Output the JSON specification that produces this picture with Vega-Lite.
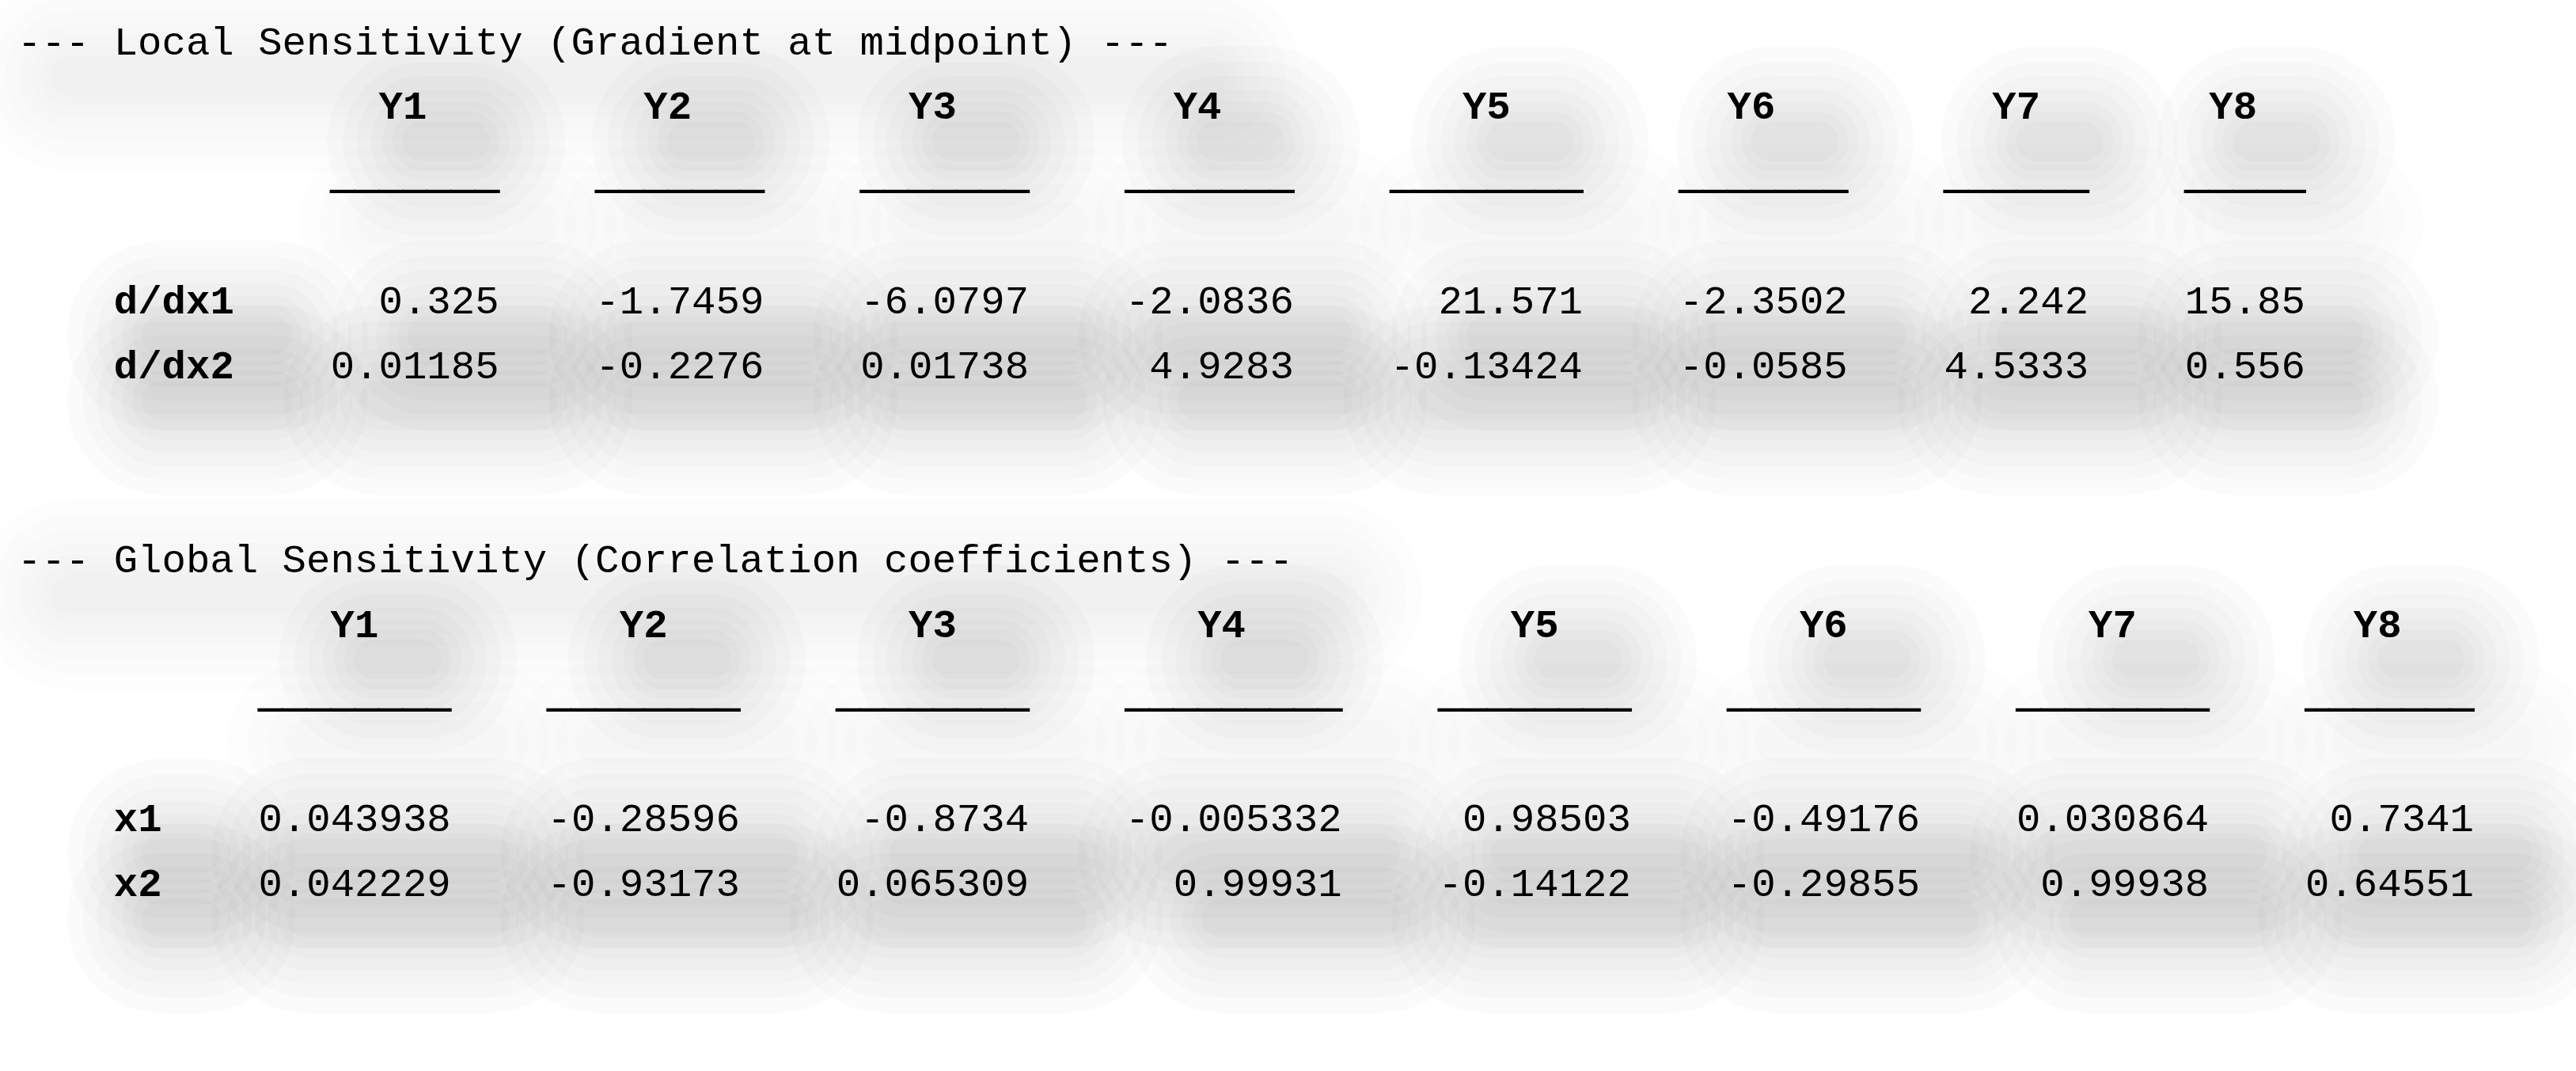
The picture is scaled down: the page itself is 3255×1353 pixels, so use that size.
{
  "$schema": "https://vega.github.io/schema/vega-lite/v6.json",
  "width": 3255,
  "height": 1353,
  "padding": 0,
  "autosize": {"type": "none"},
  "background": "#ffffff",
  "config": {"view": {"stroke": null}},
  "datasets": {
    "cells": [
      {"section": "local", "row": "d/dx1", "col": "Y1", "value": 0.325},
      {"section": "local", "row": "d/dx1", "col": "Y2", "value": -1.7459},
      {"section": "local", "row": "d/dx1", "col": "Y3", "value": -6.0797},
      {"section": "local", "row": "d/dx1", "col": "Y4", "value": -2.0836},
      {"section": "local", "row": "d/dx1", "col": "Y5", "value": 21.571},
      {"section": "local", "row": "d/dx1", "col": "Y6", "value": -2.3502},
      {"section": "local", "row": "d/dx1", "col": "Y7", "value": 2.242},
      {"section": "local", "row": "d/dx1", "col": "Y8", "value": 15.85},
      {"section": "local", "row": "d/dx2", "col": "Y1", "value": 0.01185},
      {"section": "local", "row": "d/dx2", "col": "Y2", "value": -0.2276},
      {"section": "local", "row": "d/dx2", "col": "Y3", "value": 0.01738},
      {"section": "local", "row": "d/dx2", "col": "Y4", "value": 4.9283},
      {"section": "local", "row": "d/dx2", "col": "Y5", "value": -0.13424},
      {"section": "local", "row": "d/dx2", "col": "Y6", "value": -0.0585},
      {"section": "local", "row": "d/dx2", "col": "Y7", "value": 4.5333},
      {"section": "local", "row": "d/dx2", "col": "Y8", "value": 0.556},
      {"section": "global", "row": "x1", "col": "Y1", "value": 0.043938},
      {"section": "global", "row": "x1", "col": "Y2", "value": -0.28596},
      {"section": "global", "row": "x1", "col": "Y3", "value": -0.8734},
      {"section": "global", "row": "x1", "col": "Y4", "value": -0.005332},
      {"section": "global", "row": "x1", "col": "Y5", "value": 0.98503},
      {"section": "global", "row": "x1", "col": "Y6", "value": -0.49176},
      {"section": "global", "row": "x1", "col": "Y7", "value": 0.030864},
      {"section": "global", "row": "x1", "col": "Y8", "value": 0.7341},
      {"section": "global", "row": "x2", "col": "Y1", "value": 0.042229},
      {"section": "global", "row": "x2", "col": "Y2", "value": -0.93173},
      {"section": "global", "row": "x2", "col": "Y3", "value": 0.065309},
      {"section": "global", "row": "x2", "col": "Y4", "value": 0.99931},
      {"section": "global", "row": "x2", "col": "Y5", "value": -0.14122},
      {"section": "global", "row": "x2", "col": "Y6", "value": -0.29855},
      {"section": "global", "row": "x2", "col": "Y7", "value": 0.99938},
      {"section": "global", "row": "x2", "col": "Y8", "value": 0.64551}
    ],
    "titles": [
      {"section": "local", "title": "--- Local Sensitivity (Gradient at midpoint) ---"},
      {"section": "global", "title": "--- Global Sensitivity (Correlation coefficients) ---"}
    ]
  },
  "layer": [
    {
      "data": {"name": "titles"},
      "transform": [
        {"calculate": "'title-' + datum.section", "as": "line"},
        {"calculate": "2.2", "as": "s0"},
        {"calculate": "length(datum.title) + 1.4", "as": "s1"}
      ],
      "encoding": {
        "y": {"field": "line", "type": "nominal", "axis": null,
              "scale": {"type": "point", "padding": 0.769, "align": 0.545,
                        "domain": ["title-local", "head-local", "rule-local", "gap-a", "d/dx1", "d/dx2", "gap-b", "gap-c", "title-global", "head-global", "rule-global", "gap-d", "x1", "x2", "end-a", "end-b"]}}
      },
      "layer": [
        {
          "encoding": {
            "x": {"field": "s0", "type": "quantitative", "axis": null,
                  "scale": {"domain": [-0.723, 106.24], "zero": false, "nice": false}},
            "x2": {"field": "s1"},
            "yOffset": {"value": 28}
          },
          "layer": [
            {"mark": {"type": "rule", "stroke": "#000", "strokeCap": "round", "strokeWidth": 240, "opacity": 0.009}},
            {"mark": {"type": "rule", "stroke": "#000", "strokeCap": "round", "strokeWidth": 200, "opacity": 0.009}},
            {"mark": {"type": "rule", "stroke": "#000", "strokeCap": "round", "strokeWidth": 165, "opacity": 0.009}},
            {"mark": {"type": "rule", "stroke": "#000", "strokeCap": "round", "strokeWidth": 130, "opacity": 0.009}},
            {"mark": {"type": "rule", "stroke": "#000", "strokeCap": "round", "strokeWidth": 100, "opacity": 0.009}},
            {"mark": {"type": "rule", "stroke": "#000", "strokeCap": "round", "strokeWidth": 75, "opacity": 0.009}},
            {"mark": {"type": "rule", "stroke": "#000", "strokeCap": "round", "strokeWidth": 50, "opacity": 0.009}}
          ]
        },
        {
          "mark": {"type": "text", "font": "Liberation Mono", "fontSize": 50.7, "align": "left", "baseline": "alphabetic", "fill": "#000"},
          "encoding": {
            "x": {"datum": 0, "type": "quantitative", "axis": null,
                  "scale": {"domain": [-0.723, 106.24], "zero": false, "nice": false}},
            "text": {"field": "title", "type": "nominal"}
          }
        }
      ]
    },
    {
      "data": {"name": "cells"},
      "transform": [
        {"calculate": "toString(datum.value)", "as": "txt"},
        {"calculate": "length(datum.txt)", "as": "len"},
        {"joinaggregate": [{"op": "max", "field": "len", "as": "colLen"}], "groupby": ["section", "col"]},
        {"calculate": "max(datum.colLen, length(datum.col))", "as": "w"},
        {"calculate": "length(datum.row)", "as": "rowLen"},
        {"joinaggregate": [{"op": "max", "field": "rowLen", "as": "labW"}], "groupby": ["section"]},
        {"calculate": "datum.w + 4", "as": "span"},
        {"window": [{"op": "sum", "field": "span", "as": "cum"}], "groupby": ["section", "row"], "sort": [{"field": "col"}], "frame": [null, 0]},
        {"calculate": "4 + datum.labW + datum.cum", "as": "edge"},
        {"filter": "datum.row == 'd/dx1' || datum.row == 'x1'"},
        {"calculate": "datum.edge - datum.w + floor((datum.w - length(datum.col)) / 2) + length(datum.col) / 2", "as": "mid"},
        {"calculate": "datum.mid + 0.8", "as": "s0"},
        {"calculate": "datum.mid + 2.8", "as": "s1"},
        {"calculate": "'head-' + datum.section", "as": "line"}
      ],
      "encoding": {
        "y": {"field": "line", "type": "nominal", "axis": null}
      },
      "layer": [
        {
          "encoding": {
            "x": {"field": "s0", "type": "quantitative", "axis": null,
                  "scale": {"domain": [-0.723, 106.24], "zero": false, "nice": false}},
            "x2": {"field": "s1"},
            "yOffset": {"value": 28}
          },
          "layer": [
            {"mark": {"type": "rule", "stroke": "#000", "strokeCap": "round", "strokeWidth": 240, "opacity": 0.016}},
            {"mark": {"type": "rule", "stroke": "#000", "strokeCap": "round", "strokeWidth": 200, "opacity": 0.016}},
            {"mark": {"type": "rule", "stroke": "#000", "strokeCap": "round", "strokeWidth": 165, "opacity": 0.016}},
            {"mark": {"type": "rule", "stroke": "#000", "strokeCap": "round", "strokeWidth": 130, "opacity": 0.016}},
            {"mark": {"type": "rule", "stroke": "#000", "strokeCap": "round", "strokeWidth": 100, "opacity": 0.016}},
            {"mark": {"type": "rule", "stroke": "#000", "strokeCap": "round", "strokeWidth": 75, "opacity": 0.016}},
            {"mark": {"type": "rule", "stroke": "#000", "strokeCap": "round", "strokeWidth": 50, "opacity": 0.016}}
          ]
        },
        {
          "mark": {"type": "text", "font": "Liberation Mono", "fontSize": 50.7, "fontWeight": "bold", "align": "center", "baseline": "alphabetic", "fill": "#000"},
          "encoding": {
            "x": {"field": "mid", "type": "quantitative", "axis": null,
                  "scale": {"domain": [-0.723, 106.24], "zero": false, "nice": false}},
            "text": {"field": "col", "type": "nominal"}
          }
        }
      ]
    },
    {
      "data": {"name": "cells"},
      "transform": [
        {"calculate": "toString(datum.value)", "as": "txt"},
        {"calculate": "length(datum.txt)", "as": "len"},
        {"joinaggregate": [{"op": "max", "field": "len", "as": "colLen"}], "groupby": ["section", "col"]},
        {"calculate": "max(datum.colLen, length(datum.col))", "as": "w"},
        {"calculate": "length(datum.row)", "as": "rowLen"},
        {"joinaggregate": [{"op": "max", "field": "rowLen", "as": "labW"}], "groupby": ["section"]},
        {"calculate": "datum.w + 4", "as": "span"},
        {"window": [{"op": "sum", "field": "span", "as": "cum"}], "groupby": ["section", "row"], "sort": [{"field": "col"}], "frame": [null, 0]},
        {"calculate": "4 + datum.labW + datum.cum", "as": "edge"},
        {"filter": "datum.row == 'd/dx1' || datum.row == 'x1'"},
        {"calculate": "pad('', datum.w, '_')", "as": "rule"},
        {"calculate": "datum.edge - datum.w + 2.0", "as": "s0"},
        {"calculate": "datum.edge + 1.6", "as": "s1"},
        {"calculate": "'rule-' + datum.section", "as": "line"}
      ],
      "encoding": {
        "y": {"field": "line", "type": "nominal", "axis": null}
      },
      "layer": [
        {
          "encoding": {
            "x": {"field": "s0", "type": "quantitative", "axis": null,
                  "scale": {"domain": [-0.723, 106.24], "zero": false, "nice": false}},
            "x2": {"field": "s1"},
            "yOffset": {"value": 50}
          },
          "layer": [
            {"mark": {"type": "rule", "stroke": "#000", "strokeCap": "round", "strokeWidth": 200, "opacity": 0.006}},
            {"mark": {"type": "rule", "stroke": "#000", "strokeCap": "round", "strokeWidth": 150, "opacity": 0.006}},
            {"mark": {"type": "rule", "stroke": "#000", "strokeCap": "round", "strokeWidth": 100, "opacity": 0.006}},
            {"mark": {"type": "rule", "stroke": "#000", "strokeCap": "round", "strokeWidth": 55, "opacity": 0.006}}
          ]
        },
        {
          "mark": {"type": "text", "font": "Liberation Mono", "fontSize": 50.7, "fontWeight": "bold", "align": "right", "baseline": "alphabetic", "dy": 6, "fill": "#000", "stroke": "#000", "strokeWidth": 2},
          "encoding": {
            "x": {"field": "edge", "type": "quantitative", "axis": null,
                  "scale": {"domain": [-0.723, 106.24], "zero": false, "nice": false}},
            "text": {"field": "rule", "type": "nominal"}
          }
        }
      ]
    },
    {
      "data": {"name": "cells"},
      "transform": [
        {"filter": "datum.col == 'Y1'"},
        {"calculate": "6.0", "as": "s0"},
        {"calculate": "5.6 + length(datum.row)", "as": "s1"}
      ],
      "encoding": {
        "y": {"field": "row", "type": "nominal", "axis": null}
      },
      "layer": [
        {
          "encoding": {
            "x": {"field": "s0", "type": "quantitative", "axis": null,
                  "scale": {"domain": [-0.723, 106.24], "zero": false, "nice": false}},
            "x2": {"field": "s1"},
            "yOffset": {"value": 28}
          },
          "layer": [
            {"mark": {"type": "rule", "stroke": "#000", "strokeCap": "round", "strokeWidth": 240, "opacity": 0.014}},
            {"mark": {"type": "rule", "stroke": "#000", "strokeCap": "round", "strokeWidth": 200, "opacity": 0.014}},
            {"mark": {"type": "rule", "stroke": "#000", "strokeCap": "round", "strokeWidth": 165, "opacity": 0.014}},
            {"mark": {"type": "rule", "stroke": "#000", "strokeCap": "round", "strokeWidth": 130, "opacity": 0.014}},
            {"mark": {"type": "rule", "stroke": "#000", "strokeCap": "round", "strokeWidth": 100, "opacity": 0.014}},
            {"mark": {"type": "rule", "stroke": "#000", "strokeCap": "round", "strokeWidth": 75, "opacity": 0.014}},
            {"mark": {"type": "rule", "stroke": "#000", "strokeCap": "round", "strokeWidth": 50, "opacity": 0.014}}
          ]
        },
        {
          "mark": {"type": "text", "font": "Liberation Mono", "fontSize": 50.7, "fontWeight": "bold", "align": "left", "baseline": "alphabetic", "fill": "#000"},
          "encoding": {
            "x": {"datum": 4, "type": "quantitative", "axis": null,
                  "scale": {"domain": [-0.723, 106.24], "zero": false, "nice": false}},
            "text": {"field": "row", "type": "nominal"}
          }
        }
      ]
    },
    {
      "data": {"name": "cells"},
      "transform": [
        {"calculate": "toString(datum.value)", "as": "txt"},
        {"calculate": "length(datum.txt)", "as": "len"},
        {"joinaggregate": [{"op": "max", "field": "len", "as": "colLen"}], "groupby": ["section", "col"]},
        {"calculate": "max(datum.colLen, length(datum.col))", "as": "w"},
        {"calculate": "length(datum.row)", "as": "rowLen"},
        {"joinaggregate": [{"op": "max", "field": "rowLen", "as": "labW"}], "groupby": ["section"]},
        {"calculate": "datum.w + 4", "as": "span"},
        {"window": [{"op": "sum", "field": "span", "as": "cum"}], "groupby": ["section", "row"], "sort": [{"field": "col"}], "frame": [null, 0]},
        {"calculate": "4 + datum.labW + datum.cum", "as": "edge"},
        {"calculate": "datum.edge - datum.len + 2.0", "as": "s0"},
        {"calculate": "datum.edge + 1.6", "as": "s1"}
      ],
      "encoding": {
        "y": {"field": "row", "type": "nominal", "axis": null}
      },
      "layer": [
        {
          "encoding": {
            "x": {"field": "s0", "type": "quantitative", "axis": null,
                  "scale": {"domain": [-0.723, 106.24], "zero": false, "nice": false}},
            "x2": {"field": "s1"},
            "yOffset": {"value": 28}
          },
          "layer": [
            {"mark": {"type": "rule", "stroke": "#000", "strokeCap": "round", "strokeWidth": 240, "opacity": 0.014}},
            {"mark": {"type": "rule", "stroke": "#000", "strokeCap": "round", "strokeWidth": 200, "opacity": 0.014}},
            {"mark": {"type": "rule", "stroke": "#000", "strokeCap": "round", "strokeWidth": 165, "opacity": 0.014}},
            {"mark": {"type": "rule", "stroke": "#000", "strokeCap": "round", "strokeWidth": 130, "opacity": 0.014}},
            {"mark": {"type": "rule", "stroke": "#000", "strokeCap": "round", "strokeWidth": 100, "opacity": 0.014}},
            {"mark": {"type": "rule", "stroke": "#000", "strokeCap": "round", "strokeWidth": 75, "opacity": 0.014}},
            {"mark": {"type": "rule", "stroke": "#000", "strokeCap": "round", "strokeWidth": 50, "opacity": 0.014}}
          ]
        },
        {
          "mark": {"type": "text", "font": "Liberation Mono", "fontSize": 50.7, "align": "right", "baseline": "alphabetic", "fill": "#000"},
          "encoding": {
            "x": {"field": "edge", "type": "quantitative", "axis": null,
                  "scale": {"domain": [-0.723, 106.24], "zero": false, "nice": false}},
            "text": {"field": "txt", "type": "nominal"}
          }
        }
      ]
    }
  ]
}
